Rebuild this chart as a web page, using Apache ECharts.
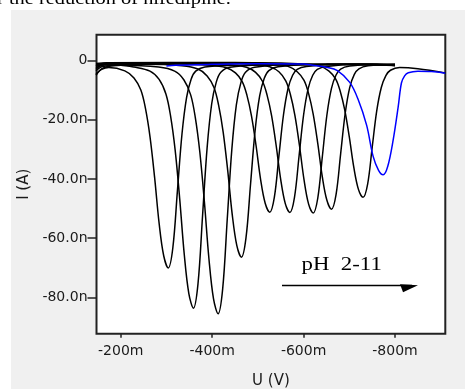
<!DOCTYPE html>
<html><head><meta charset="utf-8">
<script src="https://cdn.jsdelivr.net/npm/echarts@6.0.0/dist/echarts.min.js"></script>
<style>
html,body{margin:0;padding:0;background:#fff;overflow:hidden;}
#panel{position:absolute;left:11px;top:10px;width:454px;height:379px;background:#f0f0f0;}
#chart{position:absolute;left:0;top:0;width:471px;height:389px;}
</style></head><body>
<div id="panel"></div>
<div id="chart"></div>
<script>
// potential U (mV) vs current I (nA)
const curve1 = [[-146,-4.5],[-158,-3.0],[-174,-2.35],[-209,-3.5],[-229,-5.9],[-244,-10.0],[-254,-16.1],[-264,-25.7],[-274,-39.3],[-284,-55.0],[-294,-65.9],[-304,-70.0],[-314,-63.2],[-324,-44.0],[-334,-24.8],[-344,-12.5],[-354,-6.3],[-364,-3.6],[-384,-2.2],[-450,-1.6],[-550,-1.4],[-650,-1.3],[-750,-1.2],[-800,-1.4]];
const curve2 = [[-146,-3.5],[-160,-2.0],[-200,-1.6],[-229,-2.2],[-264,-3.6],[-284,-6.4],[-299,-11.4],[-309,-18.7],[-319,-30.2],[-329,-46.7],[-339,-65.5],[-349,-78.7],[-359,-83.6],[-369,-75.4],[-379,-52.4],[-389,-29.4],[-399,-14.6],[-409,-7.3],[-419,-4.0],[-439,-2.3],[-520,-1.5],[-650,-1.3],[-800,-1.5]];
const curve3 = [[-146,-5.0],[-162,-2.5],[-200,-1.6],[-283,-2.2],[-318,-3.6],[-338,-6.5],[-353,-11.6],[-363,-19.1],[-373,-30.9],[-383,-47.7],[-393,-67.0],[-403,-80.5],[-413,-85.5],[-423,-77.1],[-433,-53.6],[-443,-30.1],[-453,-14.9],[-463,-7.4],[-473,-4.0],[-493,-2.3],[-580,-1.4],[-700,-1.3],[-800,-1.6]];
const curve4 = [[-146,-2.5],[-165,-1.5],[-250,-1.3],[-334,-1.8],[-369,-2.9],[-389,-5.2],[-404,-9.1],[-414,-15.0],[-424,-24.1],[-434,-37.1],[-444,-52.1],[-454,-62.5],[-464,-66.4],[-474,-59.9],[-484,-41.7],[-494,-23.6],[-504,-11.9],[-514,-6.0],[-524,-3.4],[-544,-2.15],[-620,-1.4],[-720,-1.3],[-800,-1.5]];
const curve5 = [[-146,-2.0],[-168,-1.3],[-300,-1.2],[-396,-1.6],[-431,-2.45],[-451,-4.2],[-466,-7.2],[-476,-11.7],[-486,-18.7],[-496,-28.7],[-506,-40.2],[-516,-48.2],[-526,-51.2],[-536,-46.2],[-546,-32.3],[-556,-18.4],[-566,-9.45],[-576,-5.0],[-586,-3.0],[-606,-2.0],[-680,-1.3],[-800,-1.7]];
const curve6 = [[-146,-1.5],[-170,-1.0],[-350,-0.9],[-440,-1.4],[-475,-2.3],[-495,-4.0],[-510,-7.0],[-520,-11.6],[-530,-18.6],[-540,-28.7],[-550,-40.2],[-560,-48.3],[-570,-51.3],[-580,-46.3],[-590,-32.4],[-600,-18.4],[-610,-9.5],[-620,-5.0],[-630,-3.0],[-650,-2.0],[-720,-1.3],[-800,-1.5]];
const curve7 = [[-146,-3.0],[-163,-1.2],[-400,-0.8],[-491,-1.2],[-526,-2.1],[-546,-3.8],[-561,-6.9],[-571,-11.4],[-581,-18.5],[-591,-28.7],[-601,-40.3],[-611,-48.5],[-621,-51.5],[-631,-46.5],[-641,-32.5],[-651,-18.4],[-661,-9.4],[-671,-4.9],[-681,-2.9],[-701,-1.9],[-760,-1.3],[-800,-1.8]];
const curve8 = [[-146,-1.0],[-170,-0.8],[-450,-0.7],[-531,-1.2],[-566,-2.0],[-586,-3.8],[-601,-6.7],[-611,-11.2],[-621,-18.1],[-631,-28.0],[-641,-39.3],[-651,-47.2],[-661,-50.2],[-671,-45.3],[-681,-31.6],[-691,-17.9],[-701,-9.1],[-711,-4.7],[-721,-2.8],[-741,-1.8],[-800,-1.2]];
const curve9 = [[-146,-2.0],[-165,-0.9],[-500,-0.8],[-600,-1.2],[-635,-1.9],[-655,-3.5],[-670,-6.2],[-680,-10.3],[-690,-16.7],[-700,-25.8],[-710,-36.2],[-720,-43.5],[-730,-46.2],[-740,-41.8],[-750,-29.4],[-760,-17.0],[-770,-9.1],[-780,-5.1],[-790,-3.3],[-810,-2.4],[-850,-2.8],[-910,-4.2]];
const curveBlue = [[-300,-1.9],[-320,-1.6],[-400,-1.3],[-500,-1.1],[-600,-1.2],[-620,-1.6],[-650,-2.3],[-674,-3.4],[-701,-7.4],[-719,-13.0],[-738,-21.9],[-752,-32.3],[-764,-37.1],[-774,-38.6],[-784,-35.8],[-796,-26.8],[-807,-15.6],[-814,-7.6],[-821,-5.2],[-829,-4.15],[-850,-3.6],[-880,-3.7],[-910,-4.3]];

const blackCurves = [curve1, curve2, curve3, curve4, curve5, curve6, curve7, curve8, curve9];
const xTicks = [-200, -400, -600, -800];
const yTicks = [0, -20, -40, -60, -80];
const titleText = 'r the reduction of nifedipine.';
const noteText = 'pH  2-11';

const chart = echarts.init(document.getElementById('chart'), null, {renderer: 'canvas'});
const tickFont = {fontFamily: 'DejaVu Sans', fontSize: 14, color: '#1a1a1a'};
const series = blackCurves.map(c => ({
  type: 'line', data: c, showSymbol: false, symbol: 'none', smooth: 0.35,
  lineStyle: {color: '#000', width: 1.5}, silent: true, z: 2
}));
series.push({
  type: 'line', data: curveBlue, showSymbol: false, symbol: 'none', smooth: 0.35,
  lineStyle: {color: '#0000ff', width: 1.5}, silent: true, z: 3
});

chart.setOption({
  animation: false,
  backgroundColor: 'transparent',
  grid: {left: 96.5, top: 34.7, width: 348.8, height: 299.1, show: true,
    backgroundColor: '#fff', borderColor: '#222', borderWidth: 2,
    containLabel: false, outerBoundsMode: 'none'},
  xAxis: {
    type: 'value', inverse: true, min: -910, max: -147,
    name: 'U (V)', nameLocation: 'middle', nameGap: 39.5,
    nameTextStyle: {fontFamily: 'DejaVu Sans', fontSize: 15, color: '#1a1a1a'},
    axisLine: {show: false, onZero: false},
    axisTick: {show: true, inside: false, length: 4, customValues: xTicks, lineStyle: {color: '#222', width: 1.5}},
    axisLabel: Object.assign({customValues: xTicks, margin: 11, formatter: v => v + 'm'}, tickFont),
    splitLine: {show: false}
  },
  yAxis: {
    type: 'value', min: -92.25, max: 8.7,
    name: 'I (A)', nameLocation: 'middle', nameGap: 65,
    nameTextStyle: {fontFamily: 'DejaVu Sans', fontSize: 15, color: '#1a1a1a'},
    axisLine: {show: false, onZero: false},
    axisTick: {show: true, inside: false, length: 9, customValues: yTicks, lineStyle: {color: '#222', width: 1.5}},
    axisLabel: Object.assign({customValues: yTicks, margin: 9, padding: [0, 0, 9, 0],
      formatter: v => v === 0 ? '0' : v.toFixed(1) + 'n'}, tickFont),
    splitLine: {show: false}
  },
  graphic: [
    {type: 'text', x: -3, y: 8, scaleX: 1.2, z: 10,
      style: {text: titleText, font: '17px "Liberation Serif"', fill: '#000', align: 'left', verticalAlign: 'bottom'}},
    {type: 'text', x: 341.7, y: 274.5, scaleX: 1.2, z: 10,
      style: {text: noteText, font: '19px "Liberation Serif"', fill: '#000', align: 'center', verticalAlign: 'bottom'}},
    {type: 'line', z: 10, shape: {x1: 282, y1: 285.5, x2: 412, y2: 285.5}, style: {stroke: '#000', lineWidth: 1.5}},
    {type: 'polygon', z: 10, shape: {points: [[400, 284.3], [418, 285.2], [403, 292.3]]}, style: {fill: '#000'}}
  ],
  series: series
});
</script>
</body></html>
